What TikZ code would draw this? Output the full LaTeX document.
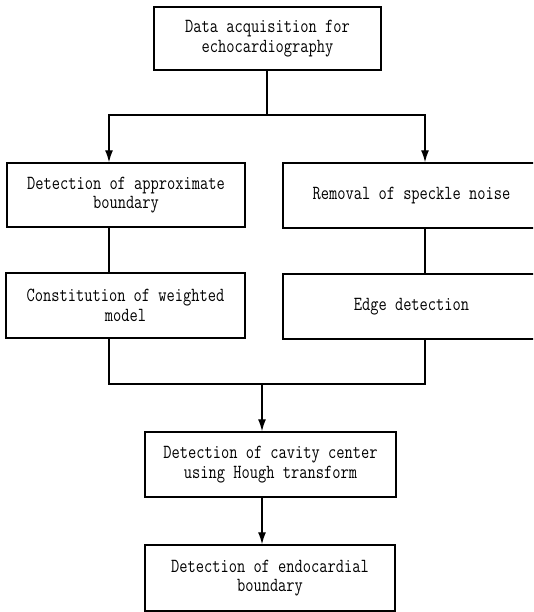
\documentclass[tikz,border=0pt]{standalone}
\usepackage{fontspec}
\setmonofont{Latin Modern Mono}[FakeStretch=0.8]
\usetikzlibrary{arrows.meta}
\begin{document}
\begin{tikzpicture}[x=1pt,y=-1pt,
  box/.style={draw,line width=1.4pt,rectangle,inner sep=0pt,align=center,
    font=\ttfamily\fontsize{20}{19.5}\selectfont},
  conn/.style={line width=1.3pt},
  arr/.style={conn,-{Latex[length=12pt,width=8pt]}}]
\useasboundingbox (0,0) rectangle (533,612);
\clip (0,0) rectangle (533,612);
\node[box,minimum width=227pt,minimum height=63pt] (acq) at (267.5,38.5) {Data acquisition for\\echocardiography};
\node[box,minimum width=238pt,minimum height=64pt] (approx) at (126,195) {Detection of approximate\\boundary};
\node[box,minimum width=257pt,minimum height=65pt] (speckle) at (411.5,195.5) {Removal of speckle noise};
\node[box,minimum width=239pt,minimum height=65pt] (weighted) at (125.5,305.5) {Constitution of weighted\\model};
\node[box,minimum width=257pt,minimum height=65pt] (edge) at (411.5,306.5) {Edge detection};
\node[box,minimum width=251pt,minimum height=65pt] (hough) at (270.5,464.5) {Detection of cavity center\\using Hough transform};
\node[box,minimum width=250pt,minimum height=66pt] (endo) at (270,578) {Detection of endocardial\\boundary};
\coordinate (split) at (267,115);
\coordinate (jl) at (109,0);
\coordinate (jr) at (425,0);
\coordinate (m) at (262,384);
\draw[conn] (acq.south -| split) -- (split);
\draw[arr] (split) -| (approx.north -| jl);
\draw[arr] (split) -| (speckle.north -| jr);
\draw[conn] (approx.south -| jl) -- (weighted.north -| jl);
\draw[conn] (speckle.south -| jr) -- (edge.north -| jr);
\draw[conn] (weighted.south -| jl) |- (m) -| (edge.south -| jr);
\draw[arr] (m) -- (hough.north -| m);
\draw[arr] (hough.south -| m) -- (endo.north -| m);
\end{tikzpicture}
\end{document}
